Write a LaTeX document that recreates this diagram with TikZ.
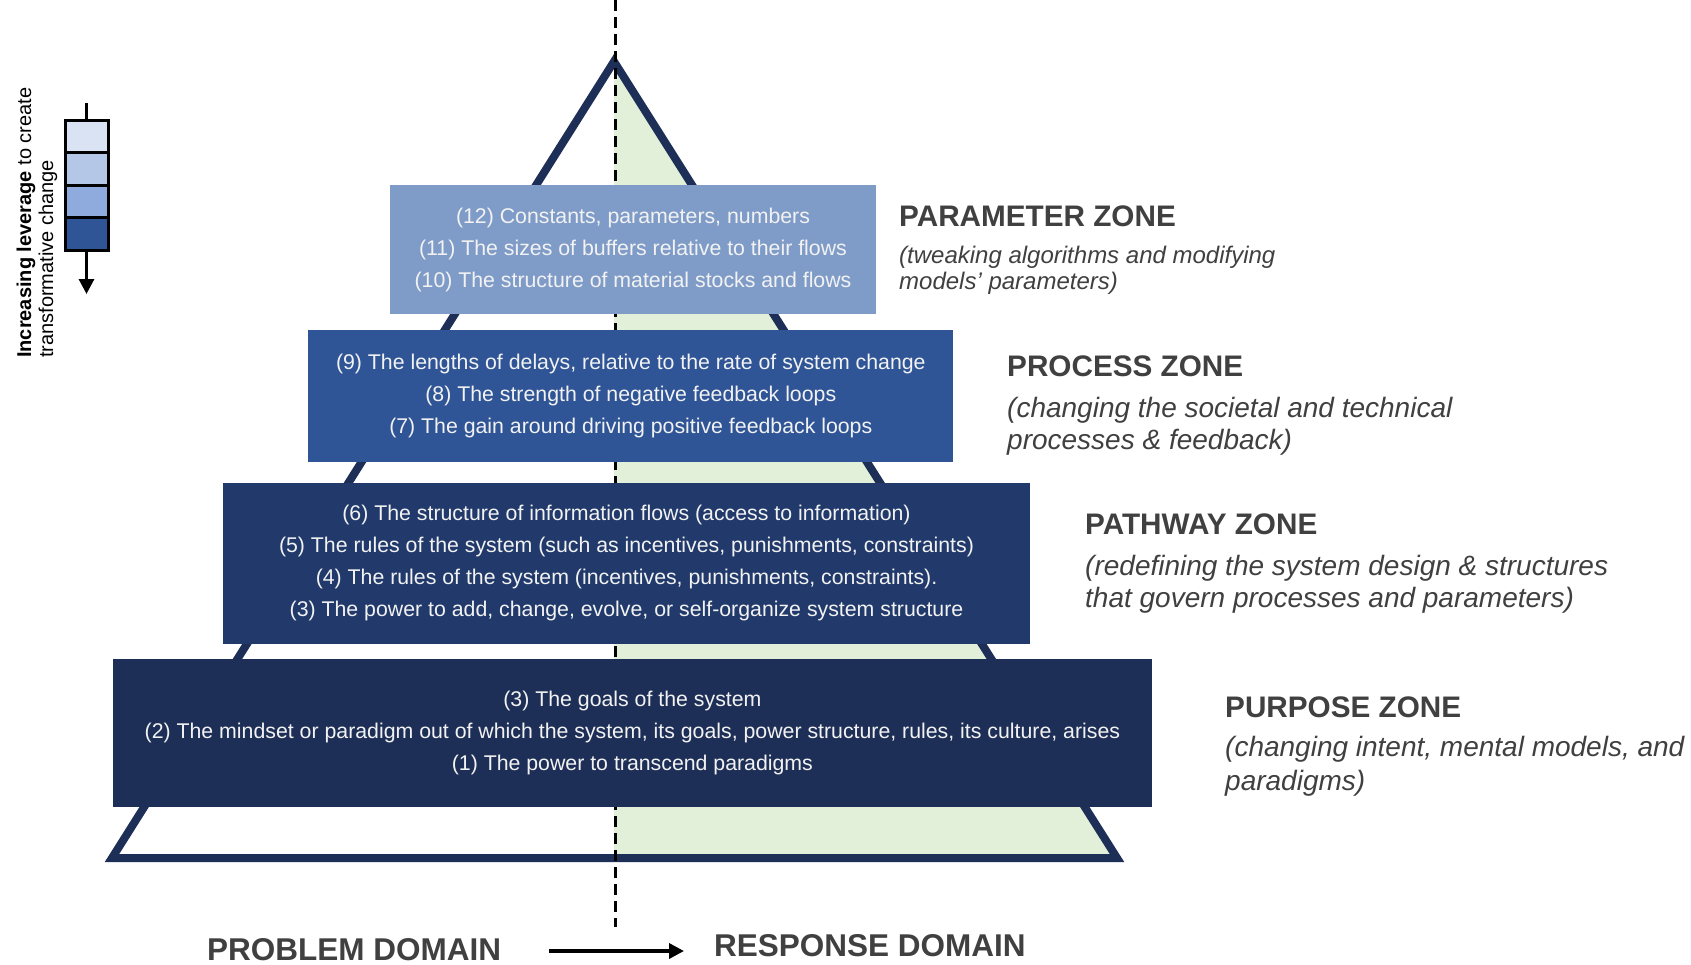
\documentclass[tikz,border=0pt]{standalone}
\usepackage{fontspec}
\setmainfont{Liberation Sans}
\usetikzlibrary{arrows.meta}
\definecolor{navy}{HTML}{1E2F57}
\definecolor{boxA}{HTML}{7F9CC9}
\definecolor{boxB}{HTML}{2F5597}
\definecolor{boxC}{HTML}{213A6B}
\definecolor{boxD}{HTML}{1E2F57}
\definecolor{paleGreen}{HTML}{E2F0D9}
\definecolor{zoneGray}{HTML}{404040}
\definecolor{boxText}{HTML}{F2F2F2}
\definecolor{cellA}{HTML}{DAE3F3}
\definecolor{cellB}{HTML}{B4C7E7}
\definecolor{cellC}{HTML}{8FAADC}
\definecolor{cellD}{HTML}{2F5597}
\begin{document}
\begin{tikzpicture}[x=1pt,y=-1pt,
  levelbox/.style={rectangle, inner sep=0pt, draw=none, text=boxText, align=center,
    font=\fontsize{21.3}{32}\selectfont},
  zonetitle/.style={anchor=base west, inner sep=0pt, text=zoneGray,
    font=\fontsize{29.7}{32}\selectfont\bfseries},
  zonesub/.style={anchor=base west, inner sep=0pt, text=zoneGray,
    font=\fontsize{28}{32}\selectfont\itshape},
  zonesubsmall/.style={anchor=base west, inner sep=0pt, text=zoneGray,
    font=\fontsize{24}{26}\selectfont\itshape},
  domainlabel/.style={anchor=base west, inner sep=0pt, text=zoneGray,
    font=\fontsize{31.5}{34}\selectfont\bfseries},
  scalecell/.style={rectangle, draw=black, line width=3pt, minimum width=43pt, minimum height=32.5pt, inner sep=0pt},
  levtext/.style={rotate=90, anchor=base west, inner sep=0pt, text=black,
    font=\fontsize{20}{22}\selectfont},
  divider/.style={draw=black, line width=3pt, dash pattern=on 11pt off 6pt},
  flowarrow/.style={draw=black, line width=3.5pt, -{Triangle[width=15pt,length=15pt]}}
]
\useasboundingbox (0,0) rectangle (1691,964);
\fill[white] (0,0) rectangle (1691,964);

% pyramid
\fill[paleGreen] (614,61.5) -- (1117,858) -- (614,858) -- cycle;
\draw[navy, line width=8pt, line join=miter] (614,61.5) -- (1117,858) -- (112,858) -- cycle;

% dashed divider
\coordinate (dtop) at (615,0);
\coordinate (dbot) at (615,927);
\draw[divider] (dtop) -- (dbot);

% level boxes
\node[levelbox, fill=boxA, minimum width=485.3pt, minimum height=128.3pt] (b12) at (633,249.6)
  {(12) Constants, parameters, numbers\\(11) The sizes of buffers relative to their flows\\(10) The structure of material stocks and flows};
\node[levelbox, fill=boxB, minimum width=644.9pt, minimum height=131.6pt] (b9) at (630.8,395.8)
  {(9) The lengths of delays, relative to the rate of system change\\(8) The strength of negative feedback loops\\(7) The gain around driving positive feedback loops};
\node[levelbox, fill=boxC, minimum width=806.6pt, minimum height=160.7pt] (b6) at (626.5,563.4)
  {(6) The structure of information flows (access to information)\\(5) The rules of the system (such as incentives, punishments, constraints)\\(4) The rules of the system (incentives, punishments, constraints).\\(3) The power to add, change, evolve, or self-organize system structure};
\node[levelbox, fill=boxD, minimum width=1038.5pt, minimum height=147.7pt] (b3) at (632.4,732.7)
  {(3) The goals of the system\\(2) The mindset or paradigm out of which the system, its goals, power structure, rules, its culture, arises\\(1) The power to transcend paradigms};

% zone labels
\node[zonetitle] (zpar) at (899,226.5) {PARAMETER ZONE};
\node[zonesubsmall] (zpar1) at (899,263.5) {(tweaking algorithms and modifying};
\node[zonesubsmall] (zpar2) at (899,289.5) {models' parameters)};

\node[zonetitle] (zpro) at (1007,376.5) {PROCESS ZONE};
\node[zonesub] (zpro1) at (1007,417) {(changing the societal and technical};
\node[zonesub] (zpro2) at (1007,449) {processes \& feedback)};

\node[zonetitle] (zpat) at (1085,534.5) {PATHWAY ZONE};
\node[zonesub] (zpat1) at (1085,575) {(redefining the system design \& structures};
\node[zonesub] (zpat2) at (1085,607) {that govern processes and parameters)};

\node[zonetitle] (zpur) at (1225,717.5) {PURPOSE ZONE};
\node[zonesub] (zpur1) at (1225,756) {(changing intent, mental models, and};
\node[zonesub] (zpur2) at (1225,790) {paradigms)};

% domains
\node[domainlabel] (prob) at (207,960.5) {PROBLEM DOMAIN};
\node[domainlabel] (resp) at (714,956) {RESPONSE DOMAIN};
\coordinate (arrS) at (549,951);
\coordinate (arrE) at (684,951);
\draw[flowarrow] (arrS) -- (arrE);

% leverage scale
\node[scalecell, fill=cellA] (c1) at (86.5,136.5) {};
\node[scalecell, fill=cellB] (c2) at (86.5,169) {};
\node[scalecell, fill=cellC] (c3) at (86.5,201.5) {};
\node[scalecell, fill=cellD] (c4) at (86.5,234) {};
\coordinate (levtop) at (86.5,103);
\coordinate (levbot) at (86.5,294);
\draw[black, line width=3pt] (levtop) -- (c1.north);
\draw[flowarrow, line width=3pt] (c4.south) -- (levbot);
\node[levtext] (lev1) at (31,358) {\textbf{Increasing leverage} to create};
\node[levtext] (lev2) at (53,358) {transformative change};
\end{tikzpicture}
\end{document}
